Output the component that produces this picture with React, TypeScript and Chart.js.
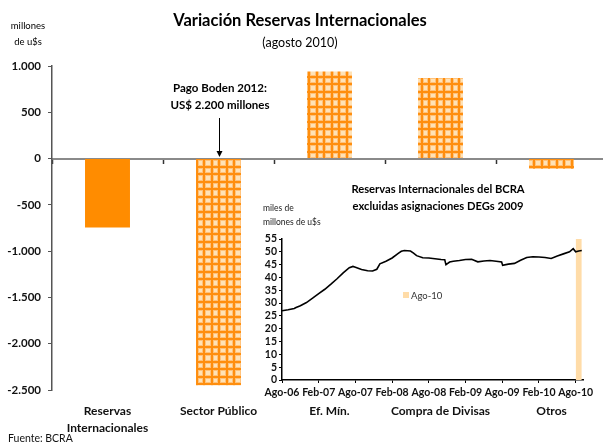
import React, { useEffect, useRef } from "react";
import { Chart, registerables } from "chart.js";
Chart.register(...registerables);

const FONT = "Lato, 'Open Sans', 'DejaVu Sans', sans-serif";

// ---- Main chart data ----
const categorias: (string | string[])[] = [
  ["Reservas", "Internacionales"],
  "Sector Público",
  "Ef. Mín.",
  "Compra de Divisas",
  "Otros",
];
const variacion = [-745, -2450, 940, 870, -110];
const yMin = -2500;
const yMax = 1000;
const yPaso = 500;

// ---- Inset chart data ----
const fechasReservas = [
  "2006-08-01", "2006-09-01", "2006-10-01", "2006-10-10", "2006-11-01", "2006-12-01",
  "2007-01-01", "2007-02-01", "2007-03-01", "2007-04-01", "2007-05-01", "2007-06-01",
  "2007-07-01", "2007-07-19", "2007-08-01", "2007-09-01", "2007-10-01", "2007-10-25",
  "2007-11-16", "2007-12-01", "2008-01-01", "2008-02-01", "2008-03-01", "2008-03-16",
  "2008-04-01", "2008-05-01", "2008-05-16", "2008-06-01", "2008-07-01", "2008-08-01",
  "2008-09-01", "2008-10-01", "2008-10-19", "2008-10-25", "2008-11-13", "2008-12-01",
  "2009-01-01", "2009-02-01", "2009-03-01", "2009-04-01", "2009-05-01", "2009-06-01",
  "2009-07-01", "2009-07-28", "2009-08-03", "2009-09-01", "2009-10-01", "2009-11-01",
  "2009-12-01", "2010-01-01", "2010-02-01", "2010-03-01", "2010-04-01", "2010-05-01",
  "2010-06-01", "2010-07-01", "2010-07-19", "2010-08-01", "2010-08-16", "2010-08-31",
];
const reservas = [
  27.0, 27.4, 27.9, 28.3, 29.0, 30.2,
  31.9, 33.7, 35.4, 37.4, 39.5, 41.8,
  43.8, 44.3, 44.0, 43.1, 42.6, 42.5,
  43.2, 45.3, 46.3, 47.6, 49.4, 50.2,
  50.5, 50.3, 49.5, 48.5, 47.7, 47.6,
  47.3, 47.0, 46.9, 45.0, 46.0, 46.3,
  46.6, 47.0, 47.1, 46.1, 46.4, 46.6,
  46.3, 46.0, 44.7, 45.2, 45.5, 46.7,
  47.8, 48.1, 48.0, 47.8, 47.4, 48.4,
  49.2, 50.0, 51.2, 50.0, 50.3, 50.5,
];
const mesesEtiquetas = ["Ago-06", "Feb-07", "Ago-07", "Feb-08", "Ago-08", "Feb-09", "Ago-09", "Feb-10", "Ago-10"];
const bandaFechas = ["2010-08-01", "2010-08-31"];
const bandaValor = 55;
const bandaEtiqueta = "Ago-10";

function mesIndice(s: string): number {
  const [y, m, d] = s.split("-").map(Number);
  return (y - 2006) * 12 + (m - 8) + (d - 1) / 30;
}

function fmtMiles(v: number): string {
  const neg = v < 0;
  const a = Math.abs(Math.round(v)).toString();
  const s = a.replace(/\B(?=(\d{3})+(?!\d))/g, ".");
  return (neg ? "-" : "") + s;
}

function makePattern(): CanvasPattern | string {
  const c = document.createElement("canvas");
  c.width = 15;
  c.height = 15;
  const g = c.getContext("2d");
  if (!g) return "#FFB050";
  g.fillStyle = "#FFE2B6";
  g.fillRect(0, 0, 15, 15);
  g.fillStyle = "#FFC27A";
  for (const p of [0, 7]) {
    g.fillRect(p, 0, 4, 15);
    g.fillRect(0, p, 15, 4);
  }
  g.fillStyle = "#FF8E0E";
  for (const p of [1, 8]) {
    g.fillRect(p, 0, 2, 15);
    g.fillRect(0, p, 15, 2);
  }
  return g.createPattern(c, "repeat") || "#FFB050";
}

type LabelProps = { x: number; y: number; size: number; bold?: boolean; align?: "left" | "center" | "right"; color?: string; children: React.ReactNode };
function Label({ x, y, size, bold, align = "center", color = "#000", children }: LabelProps) {
  const tx = align === "center" ? "-50%" : align === "right" ? "-100%" : "0";
  return (
    <div
      style={{
        position: "absolute",
        left: x,
        top: y,
        transform: `translate(${tx}, -50%)`,
        fontFamily: FONT,
        fontSize: size,
        fontWeight: bold ? 700 : 400,
        color,
        whiteSpace: "nowrap",
        lineHeight: 1,
      }}
    >
      {children}
    </div>
  );
}

export default function App() {
  const mainRef = useRef<HTMLCanvasElement>(null);
  const insetRef = useRef<HTMLCanvasElement>(null);

  useEffect(() => {
    if (!mainRef.current || !insetRef.current) return;
    const pattern = makePattern();
    const tickFont = { family: FONT, size: 11.5, weight: "bold" as const };

    const main = new Chart(mainRef.current, {
      type: "bar",
      data: {
        labels: categorias,
        datasets: [
          {
            data: variacion,
            backgroundColor: ["#FF8C00", pattern, pattern, pattern, pattern] as any,
            borderWidth: 0,
            barPercentage: 0.405,
            categoryPercentage: 1,
          },
        ],
      },
      options: {
        animation: false,
        responsive: false,
        maintainAspectRatio: false,
        layout: { padding: { top: 66, left: 0, right: 0, bottom: 0 } },
        plugins: { legend: { display: false }, tooltip: { enabled: false }, title: { display: false } },
        scales: {
          x: {
            position: "bottom",
            grid: { display: false, drawTicks: false },
            border: { display: false },
            ticks: {
              font: { family: FONT, size: 12, weight: "bold", lineHeight: 1.45 },
              color: "#111",
              padding: 12,
              maxRotation: 0,
              autoSkip: false,
            },
            afterFit: (s: any) => {
              s.height = 53;
            },
          },
          xz: {
            type: "category",
            position: { y: 0 } as any,
            grid: { offset: true, drawOnChartArea: false, tickLength: 4, tickColor: "#333", tickWidth: 1.5 },
            border: { display: true, color: "#8a8a8a", width: 2 },
            ticks: { display: false },
            afterFit: (s: any) => {
              s.height = 0;
            },
          } as any,
          y: {
            min: yMin,
            max: yMax,
            ticks: {
              stepSize: yPaso,
              callback: (v: any) => fmtMiles(Number(v)),
              font: tickFont,
              color: "#111",
              padding: 7,
            },
            grid: { drawOnChartArea: false, tickLength: 4, tickColor: "#555" },
            border: { color: "#555", width: 1.5 },
            afterFit: (s: any) => {
              s.width = 52;
            },
          },
        },
      },
    });

    const insetFont = { family: FONT, size: 10.5, weight: "bold" as const };
    const inset = new Chart(insetRef.current, {
      type: "line",
      data: {
        datasets: [
          {
            label: "Reservas",
            data: fechasReservas.map((f, i) => ({ x: mesIndice(f), y: reservas[i] })),
            borderColor: "#000",
            borderWidth: 1.6,
            pointRadius: 0,
            tension: 0,
            fill: false,
            order: 0,
          },
          {
            label: bandaEtiqueta,
            data: bandaFechas.map((f) => ({ x: mesIndice(f), y: bandaValor })),
            borderWidth: 0,
            borderColor: "rgba(0,0,0,0)",
            backgroundColor: "#FFDCA8",
            fill: "origin",
            pointRadius: 0,
            order: 1,
          },
        ],
      },
      options: {
        animation: false,
        responsive: false,
        maintainAspectRatio: false,
        layout: { padding: { top: 64, right: 20, left: 0, bottom: 0 } },
        plugins: { legend: { display: false }, tooltip: { enabled: false } },
        scales: {
          x: {
            type: "linear",
            min: 0,
            max: 49.2,
            ticks: {
              stepSize: 6,
              includeBounds: false,
              autoSkip: false,
              maxRotation: 0,
              callback: (v: any) => {
                const n = Number(v);
                return n % 6 === 0 ? mesesEtiquetas[n / 6] ?? "" : "";
              },
              font: insetFont,
              color: "#111",
              padding: 3,
            },
            grid: { drawOnChartArea: false, tickLength: 3, tickColor: "#000" },
            border: { color: "#000", width: 1.5 },
            afterFit: (s: any) => {
              s.height = 30;
            },
          },
          y: {
            min: 0,
            max: 55,
            ticks: { stepSize: 5, autoSkip: false, font: insetFont, color: "#111", padding: 2 },
            grid: { drawOnChartArea: false, tickLength: 3, tickColor: "#000" },
            border: { color: "#000", width: 1.5 },
            afterFit: (s: any) => {
              s.width = 42;
            },
          },
        },
      },
    });

    return () => {
      main.destroy();
      inset.destroy();
    };
  }, []);

  return (
    <div style={{ position: "absolute", left: 0, top: 0, width: 603, height: 443, overflow: "hidden", background: "#fff" }}>
      <canvas ref={mainRef} width={607} height={443} style={{ position: "absolute", left: 0, top: 0, width: 607, height: 443 }} />
      <canvas ref={insetRef} width={363} height={235} style={{ position: "absolute", left: 240, top: 175, width: 363, height: 235 }} />

      <Label x={300} y={20} size={16.5} bold>Variación Reservas Internacionales</Label>
      <Label x={300} y={43} size={12.5}>(agosto 2010)</Label>
      <Label x={28} y={26} size={9.5}>millones</Label>
      <Label x={28} y={42} size={9.5}>de u$s</Label>

      <Label x={220} y={88} size={11.5} bold>Pago Boden 2012:</Label>
      <Label x={220} y={105} size={11.5} bold>US$ 2.200 millones</Label>
      <svg width={603} height={443} style={{ position: "absolute", left: 0, top: 0, pointerEvents: "none" }}>
        <line x1={219.5} y1={118} x2={219.5} y2={152} stroke="#000" strokeWidth={1} />
        <polygon points="216.5,151 222.5,151 219.5,157" fill="#000" />
      </svg>

      <Label x={438} y={189} size={11.2} bold>Reservas Internacionales del BCRA</Label>
      <Label x={438} y={206} size={11.2} bold>excluidas asignaciones DEGs 2009</Label>
      <Label x={263} y={208} size={8.5} align="left" color="#222">miles de</Label>
      <Label x={263} y={222} size={8.5} align="left" color="#222">millones de u$s</Label>

      <div style={{ position: "absolute", left: 403, top: 292, width: 6, height: 6, background: "#FFDCA8" }} />
      <Label x={411} y={296} size={9.5} align="left" color="#333">{bandaEtiqueta}</Label>

      <Label x={8} y={438} size={10.5} align="left" color="#111">Fuente: BCRA</Label>
    </div>
  );
}
